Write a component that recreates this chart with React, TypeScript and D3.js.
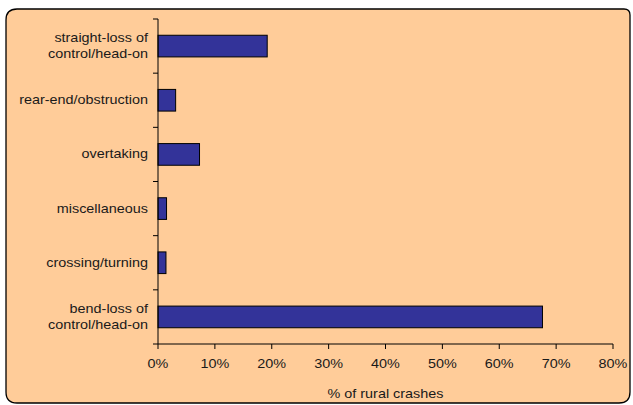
import React from "react";
import * as d3 from "d3";

const categories: string[][] = [
  ["straight-loss of", "control/head-on"],
  ["rear-end/obstruction"],
  ["overtaking"],
  ["miscellaneous"],
  ["crossing/turning"],
  ["bend-loss of", "control/head-on"],
];
const values: number[] = [19.2, 3.1, 7.3, 1.5, 1.4, 67.6];
const xTicks: number[] = [0, 10, 20, 30, 40, 50, 60, 70, 80];
const xTitle = "% of rural crashes";

const font = "'Liberation Sans', Arial, sans-serif";
const SX = 1.2;

function T({ x, y, anchor, children }: { x: number; y: number; anchor: string; children: React.ReactNode }) {
  return (
    <text transform={`translate(${x},${y}) scale(${SX},1)`} textAnchor={anchor} fontFamily={font} fontSize={12} fill="#1a1a1a">
      {children}
    </text>
  );
}

export default function App() {
  const W = 633, H = 405;
  const left = 158, right = 613, top = 19, bottom = 344;
  const x = d3.scaleLinear().domain([0, 80]).range([left, right]);
  const y = d3.scaleBand<number>().domain(d3.range(categories.length)).range([top, bottom]).paddingInner(0.6).paddingOuter(0.3);
  const band = (bottom - top) / categories.length;
  return (
    <svg width={W} height={H} style={{ position: "absolute", left: 0, top: 0 }}>
      <path d={`M6,392 L6,20 Q6,9 17,9 L624,9 Q630,9 630,15 L630,392 Q630,403 619,403 L17,403 Q6,403 6,392 Z`} fill="#FFCC99" stroke="#000" strokeWidth={1.3} />
      {values.map((v, i) => (
        <rect key={i} x={x(0)} y={y(i)!} width={x(v) - x(0)} height={y.bandwidth()} fill="#333399" stroke="#000" strokeWidth={1} />
      ))}
      <line x1={left} x2={left} y1={top} y2={bottom} stroke="#000" />
      <line x1={left} x2={right} y1={bottom} y2={bottom} stroke="#000" />
      {d3.range(categories.length + 1).map((i) => (
        <line key={i} x1={left - 5} x2={left} y1={top + i * band} y2={top + i * band} stroke="#000" />
      ))}
      {xTicks.map((t) => (
        <g key={t}>
          <line x1={x(t)} x2={x(t)} y1={bottom} y2={bottom + 5} stroke="#000" />
          <T x={x(t)} y={368} anchor="middle">{t}%</T>
        </g>
      ))}
      {categories.map((lines, i) => {
        const cy = y(i)! + y.bandwidth() / 2;
        const lh = 16;
        return (
          <g key={i}>
            {lines.map((l, j) => (
              <T key={j} x={148} y={cy + 4 + (j - (lines.length - 1) / 2) * lh} anchor="end">{l}</T>
            ))}
          </g>
        );
      })}
      <T x={(left + right) / 2} y={398} anchor="middle">{xTitle}</T>
    </svg>
  );
}
